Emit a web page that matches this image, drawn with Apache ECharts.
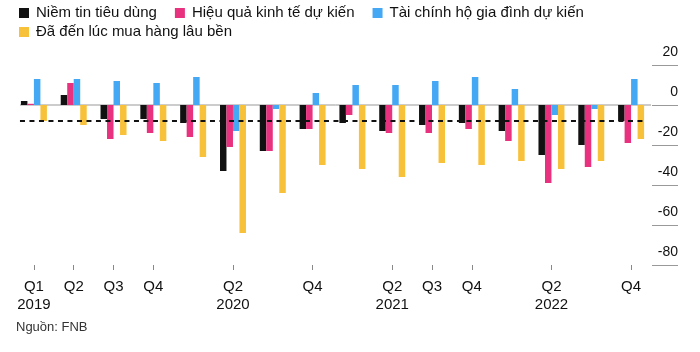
<!DOCTYPE html>
<html>
<head>
<meta charset="utf-8">
<script src="https://cdn.jsdelivr.net/npm/echarts@6.0.0/dist/echarts.min.js"></script>
<style>
  html, body { margin: 0; padding: 0; background: #fff; }
  #chart { width: 700px; height: 352px; }
</style>
</head>
<body>
<div id="chart"></div>
<script>
var categories = ['Q1 2019', 'Q2 2019', 'Q3 2019', 'Q4 2019',
                  'Q1 2020', 'Q2 2020', 'Q3 2020', 'Q4 2020',
                  'Q1 2021', 'Q2 2021', 'Q3 2021', 'Q4 2021',
                  'Q1 2022', 'Q2 2022', 'Q3 2022', 'Q4 2022'];
var labelledTicks = [0, 1, 2, 3, 5, 7, 9, 10, 11, 13, 15];
var yearShownAt = [0, 5, 9, 13];

var seriesNames = ['Niềm tin tiêu dùng', 'Hiệu quả kinh tế dự kiến',
                   'Tài chính hộ gia đình dự kiến', 'Đã đến lúc mua hàng lâu bền'];
var niemTin = [2, 5, -7, -7, -9, -33, -23, -12, -9, -13, -10, -9, -13, -25, -20, -8];
var hieuQua = [0.6, 11, -17, -14, -16, -21, -23, -12, -5, -14, -14, -12, -18, -39, -31, -19];
var taiChinh = [13, 13, 12, 11, 14, -13, -2, 6, 10, 10, 12, 14, 8, -5, -2, 13];
var muaHang = [-8, -10, -15, -18, -26, -64, -44, -30, -32, -36, -29, -30, -28, -32, -28, -17];
var averageLevel = -8;

var colors = ['#111111', '#e8327f', '#45a8f5', '#f8c13a'];
var font = 'Liberation Sans';

function barSeries(i, values) {
  return {
    name: seriesNames[i],
    type: 'bar',
    xAxisIndex: 0,
    yAxisIndex: 0,
    barWidth: 6.5,
    barGap: '0%',
    z: 2,
    itemStyle: { color: colors[i] },
    data: values
  };
}

function isLabelled(index) {
  return labelledTicks.indexOf(index) >= 0;
}

var first = -0.35;
var last = categories.length - 1 + 0.35;

var option = {
  animation: false,
  textStyle: { fontFamily: font },
  title: {
    text: 'Nguồn: FNB',
    left: 16,
    top: 321,
    padding: 0,
    textStyle: { fontSize: 13, fontWeight: 'normal', color: '#333', fontFamily: font }
  },
  legend: [{
    data: seriesNames.slice(0, 3),
    left: 19,
    top: 4,
    padding: 0,
    icon: 'rect',
    itemWidth: 10,
    itemHeight: 10,
    itemGap: 18,
    textStyle: { fontSize: 15, color: '#111', fontFamily: font, lineHeight: 18, padding: [0, 0, 0, 2] }
  }, {
    data: seriesNames.slice(3),
    left: 19,
    top: 23,
    padding: 0,
    icon: 'rect',
    itemWidth: 10,
    itemHeight: 10,
    textStyle: { fontSize: 15, color: '#111', fontFamily: font, lineHeight: 18, padding: [0, 0, 0, 2] }
  }],
  grid: [
    { left: 14, right: 49, top: 65, bottom: 87 },
    { left: 652, right: 22, top: 65, bottom: 87 }
  ],
  xAxis: [{
    type: 'category',
    gridIndex: 0,
    data: categories,
    position: 'bottom',
    axisLine: { show: true, onZero: false, lineStyle: { color: 'rgba(0,0,0,0)' } },
    axisTick: {
      show: true,
      alignWithLabel: true,
      length: 5,
      interval: function (index) { return isLabelled(index); },
      lineStyle: { color: '#888', width: 1 }
    },
    axisLabel: {
      interval: 0,
      margin: 13,
      fontSize: 15,
      lineHeight: 18,
      color: '#111',
      fontFamily: font,
      formatter: function (value, index) {
        if (!isLabelled(index)) return '';
        var parts = value.split(' ');
        return yearShownAt.indexOf(index) >= 0 ? parts[0] + '\n' + parts[1] : parts[0];
      }
    }
  }, {
    type: 'value',
    gridIndex: 0,
    min: -0.5,
    max: categories.length - 0.5,
    show: false
  }, {
    type: 'value',
    gridIndex: 1,
    min: 0,
    max: 1,
    show: false
  }],
  yAxis: [{
    type: 'value',
    gridIndex: 0,
    min: -80,
    max: 20,
    interval: 20,
    show: false
  }, {
    type: 'value',
    gridIndex: 1,
    min: -80,
    max: 20,
    interval: 20,
    position: 'right',
    axisLine: { show: false },
    axisTick: { show: false },
    splitLine: { show: true, lineStyle: { color: '#999', width: 1 } },
    axisLabel: {
      inside: true,
      margin: 0,
      verticalAlign: 'bottom',
      padding: [0, 0, 6, 0],
      fontSize: 14,
      color: '#111',
      fontFamily: font
    }
  }],
  series: [
    {
      name: 'zero',
      type: 'line',
      xAxisIndex: 1,
      yAxisIndex: 0,
      silent: true,
      symbol: 'none',
      z: 1,
      lineStyle: { color: '#999', width: 1 },
      data: [[first, 0], [categories.length - 0.5, 0]]
    },
    barSeries(0, niemTin),
    barSeries(1, hieuQua),
    barSeries(2, taiChinh),
    barSeries(3, muaHang),
    {
      name: 'average',
      type: 'line',
      xAxisIndex: 1,
      yAxisIndex: 0,
      silent: true,
      symbol: 'none',
      z: 3,
      lineStyle: { color: '#111', width: 2, type: [5, 4.5] },
      data: [[first, averageLevel], [last, averageLevel]]
    }
  ]
};

var chart = echarts.init(document.getElementById('chart'));
chart.setOption(option);
</script>
</body>
</html>
